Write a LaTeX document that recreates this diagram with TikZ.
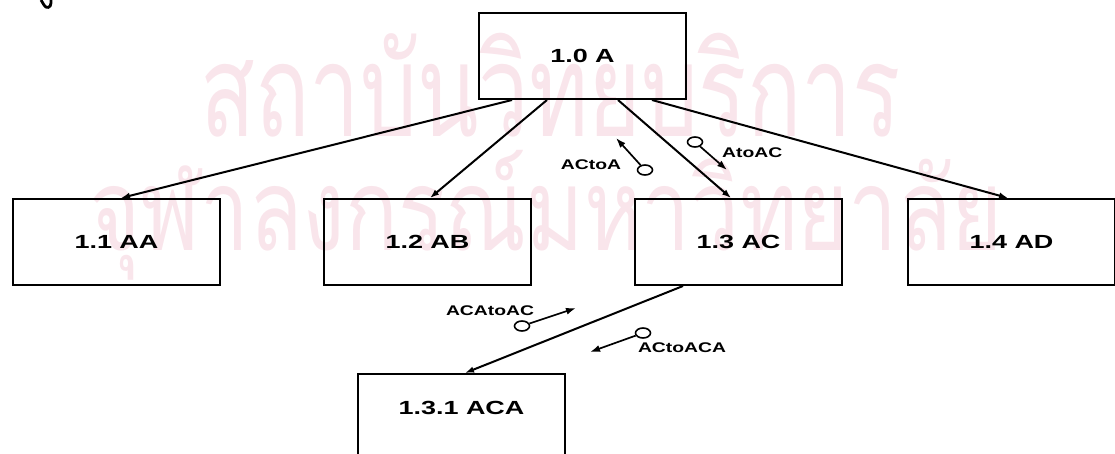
\documentclass[tikz,border=0pt]{standalone}
\usepackage{fontspec}
\setmainfont{Liberation Sans}
\newfontfamily\thaifont[Script=Thai]{Loma}
\usetikzlibrary{arrows.meta,shapes.geometric}
\definecolor{wmark}{RGB}{249,229,235}
% wide lettering used throughout the chart
\newcommand\wideA[1]{\scalebox{1.42}[1]{#1}}
\newcommand\wideB[1]{\scalebox{1.38}[1]{#1}}

\begin{document}
\begin{tikzpicture}[x=1pt,y=-1pt,
  box/.style={draw, line width=2pt, rectangle, minimum width=207pt,
    minimum height=86pt, anchor=north west, inner sep=0pt,
    font=\fontsize{19}{20}\selectfont\bfseries},
  conn/.style={line width=2pt, -{Latex[length=9pt,width=6.5pt]}},
  couple/.style={draw, ellipse, line width=1.6pt, minimum width=15pt,
    minimum height=10pt, inner sep=0pt},
  flow/.style={line width=1.7pt, -{Latex[length=10pt,width=7pt]}},
  lbl/.style={inner sep=0pt, font=\fontsize{14}{15}\selectfont\bfseries},
  wm/.style={text=wmark, inner sep=0pt, font=\thaifont}
]
\useasboundingbox (0,0) rectangle (1115,454);
\clip (0,0) rectangle (1115,454);

% background stamp
\node[wm, anchor=north west] (wm1) at (200,33)
  {\resizebox*{700pt}{104pt}{สถาบันวิทยบริการ}};
\node[wm, anchor=north west] (wm2) at (89,150)
  {\resizebox*{913pt}{130pt}{จุฬาลงกรณ์มหาวิทยาลัย}};

% fragment of a heading letter at the top edge
\draw[line width=2.8pt] (41,0) -- (44,5) .. controls (46,9) and (51,8) .. (51,3) -- (51,0);

% module boxes
\node[box] (a)  at (478,12)  {\wideA{1.0 A}};
\node[box] (aa) at (12,198)  {\wideA{1.1 AA}};
\node[box] (ab) at (323,198) {\wideA{1.2 AB}};
\node[box] (ac) at (634,198) {\wideA{1.3 AC}};
\node[box] (ad) at (907,198) {\wideA{1.4 AD}};
\node[box, minimum height=110pt, text depth=42pt] (aca) at (357,373) {\wideA{1.3.1 ACA}};

% calls
\draw[conn] ([xshift=34pt]a.south west)  -- ([xshift=109pt]aa.north west);
\draw[conn] ([xshift=69pt]a.south west)  -- ([xshift=107pt]ab.north west);
\draw[conn] ([xshift=140pt]a.south west) -- ([xshift=97pt]ac.north west);
\draw[conn] ([xshift=174pt]a.south west) -- ([xshift=101pt]ad.north west);
\draw[conn] ([xshift=49pt]ac.south west) -- ([xshift=108pt]aca.north west);

% data couples
\node[couple] (c1) at (645,170) {};
\coordinate (t1) at (616,138);
\draw[flow] (c1) -- (t1);
\node[lbl] (l1) at (591,165) {\wideB{ACtoA}};

\node[couple] (c2) at (695,142) {};
\coordinate (t2) at (727,170);
\draw[flow] (c2) -- (t2);
\node[lbl, anchor=west] (l2) at (722,153) {\wideB{AtoAC}};

\node[couple] (c3) at (522,326) {};
\coordinate (t3) at (576,308);
\draw[flow] (c3) -- (t3);
\node[lbl] (l3) at (490,311) {\wideB{ACAtoAC}};

\node[couple] (c4) at (643,333) {};
\coordinate (t4) at (590,352);
\draw[flow] (c4) -- (t4);
\node[lbl] (l4) at (682,348) {\wideB{ACtoACA}};
\end{tikzpicture}
\end{document}
